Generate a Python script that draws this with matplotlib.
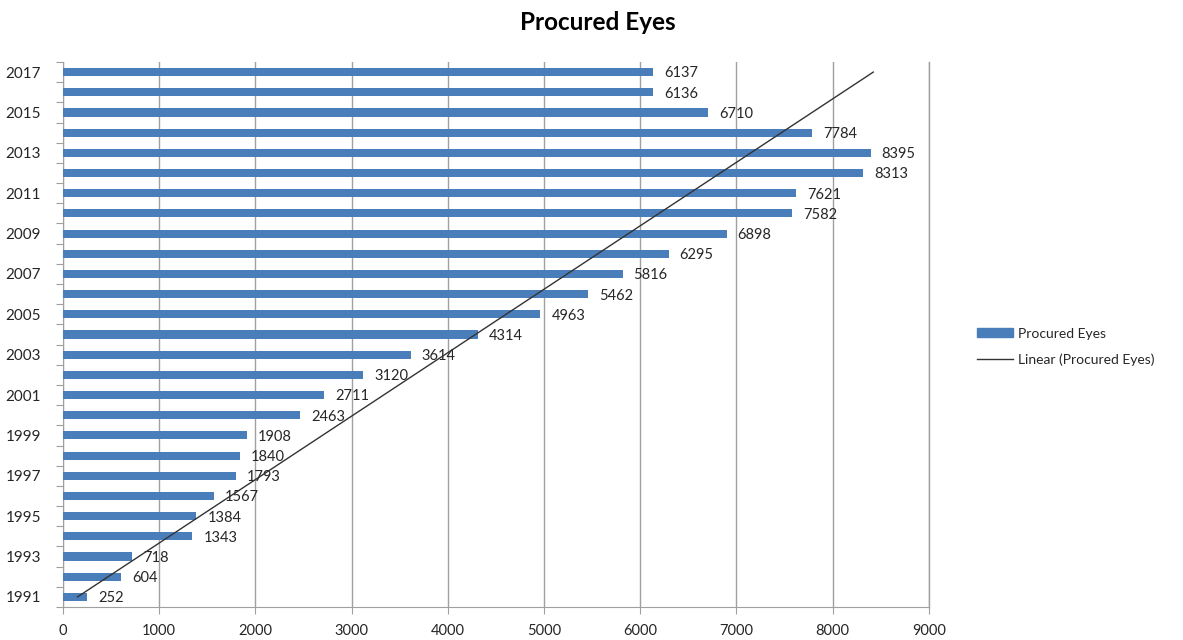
import numpy as np
import matplotlib
matplotlib.use("Agg")
import matplotlib.pyplot as plt
from matplotlib.ticker import FixedLocator, NullFormatter, FixedFormatter
from matplotlib.patches import Patch
from matplotlib.lines import Line2D

plt.rcParams['font.family'] = ['Lato', 'DejaVu Sans']

years = list(range(1991, 2018))
procured = [252, 604, 718, 1343, 1384, 1567, 1793, 1840, 1908, 2463, 2711, 3120,
            3614, 4314, 4963, 5462, 5816, 6295, 6898, 7582, 7621, 8313, 8395,
            7784, 6710, 6136, 6137]
x_ticks = list(range(0, 9001, 1000))

bar_color = '#4A7EBB'
grid_color = '#A0A0A0'
text_color = '#262626'

fig = plt.figure(figsize=(11.83, 6.4), dpi=100)
ax = fig.add_axes([0.0533, 0.0516, 0.7318, 0.8515])

pos = np.arange(len(years))
ax.barh(pos, procured, height=0.4, color=bar_color, zorder=3)

for p, v in zip(pos, procured):
    ax.annotate(f"{v}", (v, p), xytext=(8, -1), textcoords='offset points',
                va='center', ha='left', fontsize=10.5, color=text_color)

# linear trend over category index (1..n)
idx = pos + 1
slope, intercept = np.polyfit(idx, procured, 1)
ax.plot(slope * idx + intercept, pos, color='#333333', lw=1.0, zorder=4)

ax.set_xlim(0, 9000)
ax.set_ylim(-0.5, len(years) - 0.5)
ax.xaxis.set_major_locator(FixedLocator(x_ticks))
ax.set_xticklabels([str(t) for t in x_ticks], fontsize=10.5, color=text_color)
ax.grid(axis='x', color=grid_color, lw=1.0, zorder=0)
# outermost gridline sits on the axes edge; draw it unclipped
ax.axvline(x_ticks[-1], color=grid_color, lw=1.0, zorder=0, clip_on=False)

ax.yaxis.set_major_locator(FixedLocator(np.arange(-0.5, len(years), 1.0)))
ax.yaxis.set_major_formatter(NullFormatter())
ax.yaxis.set_minor_locator(FixedLocator(pos))
ax.yaxis.set_minor_formatter(FixedFormatter([str(y) if y % 2 == 1 else "" for y in years]))
ax.tick_params(axis='y', which='major', length=5, color=grid_color, direction='out')
ax.tick_params(axis='y', which='minor', length=0, labelsize=11, labelcolor=text_color, pad=16)
ax.tick_params(axis='x', which='major', length=5, color=grid_color, direction='out', pad=7)

for s in ['top', 'right']:
    ax.spines[s].set_visible(False)
for s in ['left', 'bottom']:
    ax.spines[s].set_color(grid_color)

fig.text(0.505, 0.965, "Procured Eyes", ha='center', va='center', fontsize=17.5,
         fontweight='bold', color='black')

handles = [Patch(color=bar_color), Line2D([0], [0], color='#333333', lw=1.0)]
fig.legend(handles, ["Procured Eyes", "Linear (Procured Eyes)"],
           loc='center left', bbox_to_anchor=(0.815, 0.458), frameon=False,
           fontsize=10, handlelength=2.6, handleheight=0.6, labelspacing=1.0,
           handletextpad=0.4, labelcolor=text_color)

fig.savefig("out.png", dpi=100, facecolor='white')
